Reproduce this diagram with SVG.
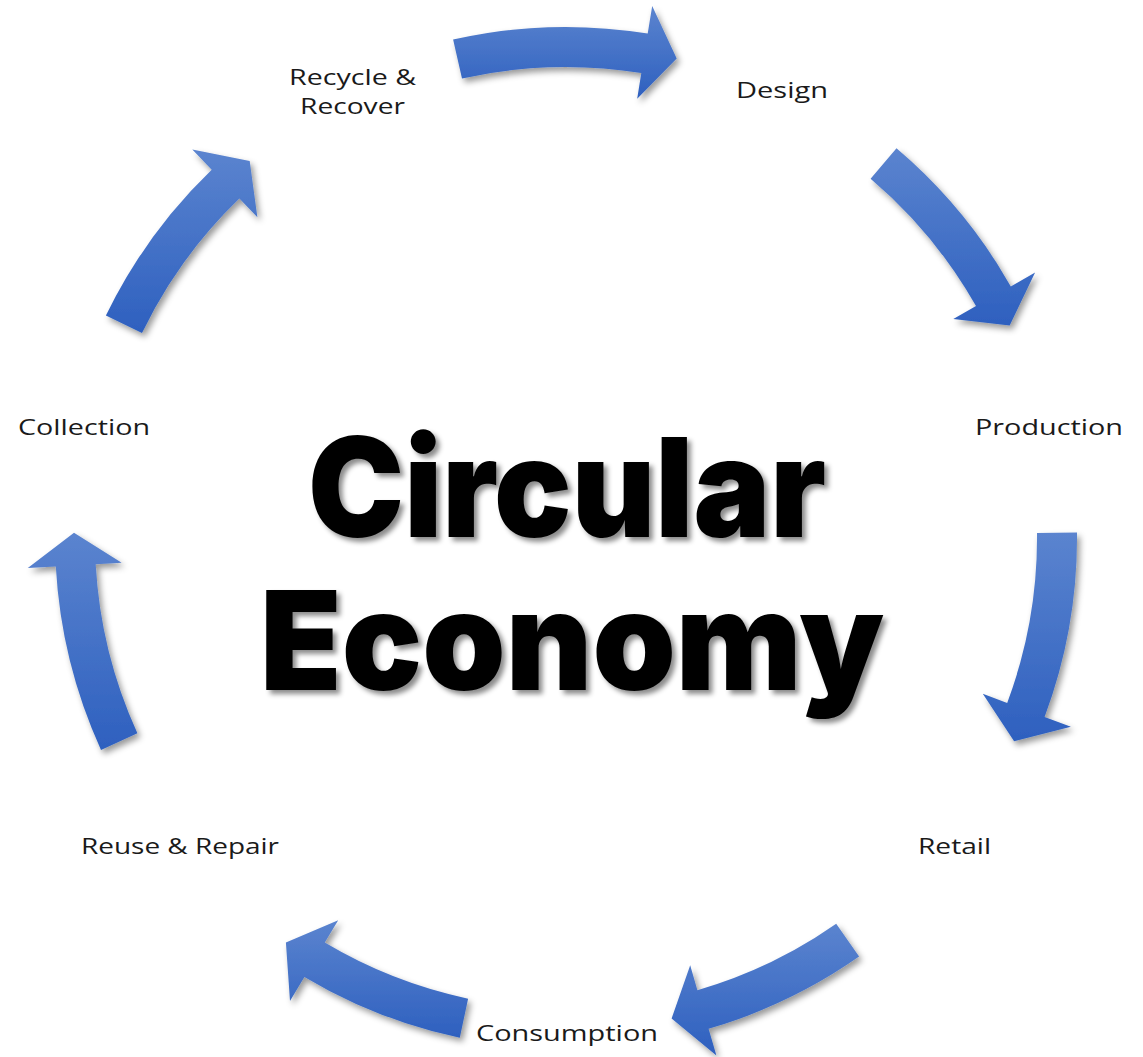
<svg xmlns="http://www.w3.org/2000/svg" width="1143" height="1057" viewBox="0 0 1143 1057">
<defs>
<linearGradient id="blueGrad" x1="0" y1="0" x2="0" y2="1">
<stop offset="0" stop-color="#5b84cf"/>
<stop offset="1" stop-color="#2e60bf"/>
</linearGradient>
<filter id="arrowShadow" x="-20%" y="-20%" width="140%" height="140%">
<feDropShadow dx="3" dy="4" stdDeviation="3" flood-color="#000" flood-opacity="0.4"/>
</filter>
<filter id="textShadow" x="-10%" y="-10%" width="120%" height="130%">
<feDropShadow dx="4" dy="4" stdDeviation="2.5" flood-color="#000" flood-opacity="0.45"/>
</filter>
</defs>
<style>
.arrow{fill:url(#blueGrad);filter:url(#arrowShadow);}
.label{font-family:"Open Sans","Liberation Sans",sans-serif;font-size:22px;fill:#1a1a1a;text-anchor:middle;}
.title{font-family:Inter,"Noto Sans","Liberation Sans",sans-serif;font-weight:900;font-size:138px;fill:#000;text-anchor:middle;filter:url(#textShadow);}
</style>
<rect width="1143" height="1057" fill="#fff"/>
<g id="connectors">
<path class="arrow" d="M453.1,39.6 A511,511 0 0 1 647.7,33.6 L652.2,6.0 L676.7,58.6 L637.2,98.7 L641.3,73.1 A471,471 0 0 0 462.0,78.6 Z"/>
<path class="arrow" d="M896.5,148.3 A511,511 0 0 1 1010.8,286.4 L1035.1,272.6 L1009.7,325.4 L953.3,318.9 L976.0,306.1 A471,471 0 0 0 870.6,178.8 Z"/>
<path class="arrow" d="M1077.0,532.6 A511,511 0 0 1 1044.6,716.9 L1070.9,726.8 L1014.1,741.2 L982.8,693.8 L1007.2,702.9 A471,471 0 0 0 1037.0,533.1 Z"/>
<path class="arrow" d="M859.1,956.6 A511,511 0 0 1 708.6,1028.7 L716.4,1055.6 L671.6,1018.5 L690.2,965.3 L697.4,990.3 A471,471 0 0 0 836.2,923.8 Z"/>
<path class="arrow" d="M459.8,1037.8 A511,511 0 0 1 304.4,976.9 L290.0,1001.0 L285.9,942.5 L338.2,920.3 L324.8,942.6 A471,471 0 0 0 468.1,998.7 Z"/>
<path class="arrow" d="M101.0,749.9 A511,511 0 0 1 55.8,566.5 L27.8,568.1 L74.0,532.8 L121.7,562.8 L95.7,564.3 A471,471 0 0 0 137.4,733.3 Z"/>
<path class="arrow" d="M105.9,315.6 A511,511 0 0 1 211.7,169.8 L192.3,149.6 L249.7,161.1 L257.4,217.3 L239.4,198.6 A471,471 0 0 0 142.0,333.0 Z"/>
</g>
<g id="node-recycle">
<text class="label" x="352.5" y="85" textLength="127" lengthAdjust="spacingAndGlyphs">Recycle &amp;</text>
<text class="label" x="352.5" y="114" textLength="105" lengthAdjust="spacingAndGlyphs">Recover</text>
</g>
<g id="node-design"><text class="label" x="782" y="98" textLength="92" lengthAdjust="spacingAndGlyphs">Design</text></g>
<g id="node-production"><text class="label" x="1049" y="435" textLength="148" lengthAdjust="spacingAndGlyphs">Production</text></g>
<g id="node-retail"><text class="label" x="954.5" y="854" textLength="73" lengthAdjust="spacingAndGlyphs">Retail</text></g>
<g id="node-consumption"><text class="label" x="567" y="1041" textLength="182" lengthAdjust="spacingAndGlyphs">Consumption</text></g>
<g id="node-reuse"><text class="label" x="180" y="854" textLength="198" lengthAdjust="spacingAndGlyphs">Reuse &amp; Repair</text></g>
<g id="node-collection"><text class="label" x="84" y="435" textLength="132" lengthAdjust="spacingAndGlyphs">Collection</text></g>
<g id="title">
<text class="title" x="567" y="537" textLength="518" lengthAdjust="spacingAndGlyphs">Circular</text>
<text class="title" x="572" y="690" textLength="624" lengthAdjust="spacingAndGlyphs">Economy</text>
</g>
</svg>
